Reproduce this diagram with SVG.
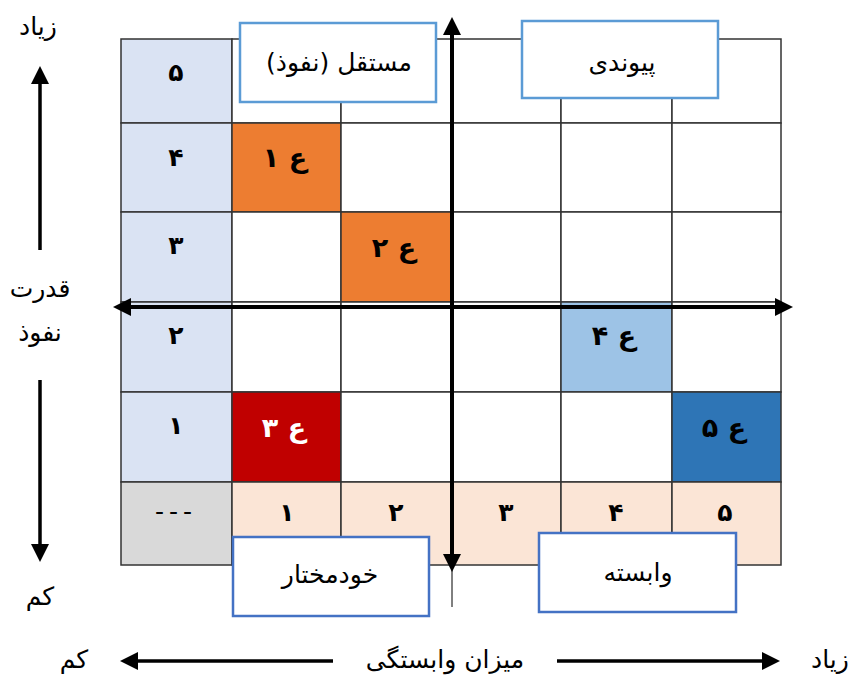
<svg xmlns="http://www.w3.org/2000/svg" width="857" height="675" viewBox="0 0 857 675">
<style>
  text { font-family: "DejaVu Sans", "Noto Sans", sans-serif; fill: #000; text-anchor: middle; dominant-baseline: central; }
  .lbl { font-size: 25px; }
  .num { font-size: 25px; font-weight: bold; }
  .ain { font-size: 27px; font-weight: bold; }
  .cell { stroke: #333; stroke-width: 1.5; }
  .box1 { fill: #fff; stroke: #5B9BD5; stroke-width: 2.5; }
  .box2 { fill: #fff; stroke: #4472C4; stroke-width: 2.5; }
  .axis { stroke: #000; stroke-width: 4; fill: none; }
  .side { stroke: #000; stroke-width: 3.5; fill: none; }
</style>
<defs>
  <marker id="ah" markerUnits="userSpaceOnUse" markerWidth="20" markerHeight="20" viewBox="0 0 20 20" refX="2" refY="10" orient="auto-start-reverse">
    <path d="M0,1 L18,10 L0,19 Z" fill="#000"/>
  </marker>
</defs>

<g id="grid">
  <rect class="cell" x="121" y="39" width="111" height="84" fill="#DAE3F3"/>
  <rect class="cell" x="121" y="123" width="111" height="89" fill="#DAE3F3"/>
  <rect class="cell" x="121" y="212" width="111" height="90" fill="#DAE3F3"/>
  <rect class="cell" x="121" y="302" width="111" height="90" fill="#DAE3F3"/>
  <rect class="cell" x="121" y="392" width="111" height="90" fill="#DAE3F3"/>
  <rect class="cell" x="121" y="482" width="111" height="83" fill="#D9D9D9"/>
  <rect class="cell" x="232" y="39" width="109" height="84" fill="#fff"/>
  <rect class="cell" x="341" y="39" width="111" height="84" fill="#fff"/>
  <rect class="cell" x="452" y="39" width="109" height="84" fill="#fff"/>
  <rect class="cell" x="561" y="39" width="111" height="84" fill="#fff"/>
  <rect class="cell" x="672" y="39" width="109" height="84" fill="#fff"/>
  <rect class="cell" x="232" y="123" width="109" height="89" fill="#ED7D31"/>
  <rect class="cell" x="341" y="123" width="111" height="89" fill="#fff"/>
  <rect class="cell" x="452" y="123" width="109" height="89" fill="#fff"/>
  <rect class="cell" x="561" y="123" width="111" height="89" fill="#fff"/>
  <rect class="cell" x="672" y="123" width="109" height="89" fill="#fff"/>
  <rect class="cell" x="232" y="212" width="109" height="90" fill="#fff"/>
  <rect class="cell" x="341" y="212" width="111" height="90" fill="#ED7D31"/>
  <rect class="cell" x="452" y="212" width="109" height="90" fill="#fff"/>
  <rect class="cell" x="561" y="212" width="111" height="90" fill="#fff"/>
  <rect class="cell" x="672" y="212" width="109" height="90" fill="#fff"/>
  <rect class="cell" x="232" y="302" width="109" height="90" fill="#fff"/>
  <rect class="cell" x="341" y="302" width="111" height="90" fill="#fff"/>
  <rect class="cell" x="452" y="302" width="109" height="90" fill="#fff"/>
  <rect class="cell" x="561" y="302" width="111" height="90" fill="#9DC3E6"/>
  <rect class="cell" x="672" y="302" width="109" height="90" fill="#fff"/>
  <rect class="cell" x="232" y="392" width="109" height="90" fill="#C00000"/>
  <rect class="cell" x="341" y="392" width="111" height="90" fill="#fff"/>
  <rect class="cell" x="452" y="392" width="109" height="90" fill="#fff"/>
  <rect class="cell" x="561" y="392" width="111" height="90" fill="#fff"/>
  <rect class="cell" x="672" y="392" width="109" height="90" fill="#2E75B6"/>
  <rect class="cell" x="232" y="482" width="109" height="83" fill="#FBE5D6"/>
  <rect class="cell" x="341" y="482" width="111" height="83" fill="#FBE5D6"/>
  <rect class="cell" x="452" y="482" width="109" height="83" fill="#FBE5D6"/>
  <rect class="cell" x="561" y="482" width="111" height="83" fill="#FBE5D6"/>
  <rect class="cell" x="672" y="482" width="109" height="83" fill="#FBE5D6"/>

  <text class="num" x="176" y="72">۵</text>
  <text class="num" x="176" y="157">۴</text>
  <text class="num" x="176" y="245">۳</text>
  <text class="num" x="176" y="335">۲</text>
  <text class="num" x="176" y="425">۱</text>
  <text class="lbl" x="176" y="511" style="letter-spacing:5px">---</text>
  <text class="num" x="287" y="512">۱</text>
  <text class="num" x="396" y="512">۲</text>
  <text class="num" x="506" y="512">۳</text>
  <text class="num" x="616" y="512">۴</text>
  <text class="num" x="725" y="512">۵</text>

  <text class="ain" x="285" y="157">ع ۱</text>
  <text class="ain" x="394" y="247">ع ۲</text>
  <text class="ain" x="284" y="427" style="fill:#fff">ع ۳</text>
  <text class="ain" x="614" y="335">ع ۴</text>
  <text class="ain" x="724" y="427">ع ۵</text>
</g>

<g id="connectors">
  <line class="axis" x1="452" y1="33" x2="452" y2="556" marker-start="url(#ah)" marker-end="url(#ah)"/>
  <line x1="452" y1="565" x2="452" y2="607" stroke="#000" stroke-width="1"/>
  <line class="axis" x1="129" y1="307" x2="777" y2="307" marker-start="url(#ah)" marker-end="url(#ah)"/>
  <line class="side" x1="40" y1="250" x2="40" y2="82" marker-end="url(#ah)"/>
  <line class="side" x1="40" y1="380" x2="40" y2="546" marker-end="url(#ah)"/>
  <line class="side" x1="333" y1="661" x2="136" y2="661" marker-end="url(#ah)"/>
  <line class="side" x1="557" y1="661" x2="764" y2="661" marker-end="url(#ah)"/>
</g>

<g id="node-mostaqel">
  <rect class="box1" x="240" y="23" width="196" height="79"/>
  <text class="lbl" x="339" y="62">مستقل (نفوذ)</text>
</g>
<g id="node-peyvandi">
  <rect class="box1" x="522" y="21" width="196" height="77"/>
  <text class="lbl" x="622" y="62">پیوندی</text>
</g>
<g id="node-khodmokhtar">
  <rect class="box2" x="233" y="537" width="196" height="79"/>
  <text class="lbl" x="330" y="574">خودمختار</text>
</g>
<g id="node-vabaste">
  <rect class="box2" x="539" y="533" width="197" height="79"/>
  <text class="lbl" x="638" y="572">وابسته</text>
</g>

<g id="labels">
  <text class="lbl" x="38" y="26">زیاد</text>
  <text class="lbl" x="40" y="288">قدرت</text>
  <text class="lbl" x="40" y="332">نفوذ</text>
  <text class="lbl" x="40" y="596">کم</text>
  <text class="lbl" x="74" y="659">کم</text>
  <text class="lbl" x="445" y="659">میزان وابستگی</text>
  <text class="lbl" x="830" y="659">زیاد</text>
</g>
</svg>
